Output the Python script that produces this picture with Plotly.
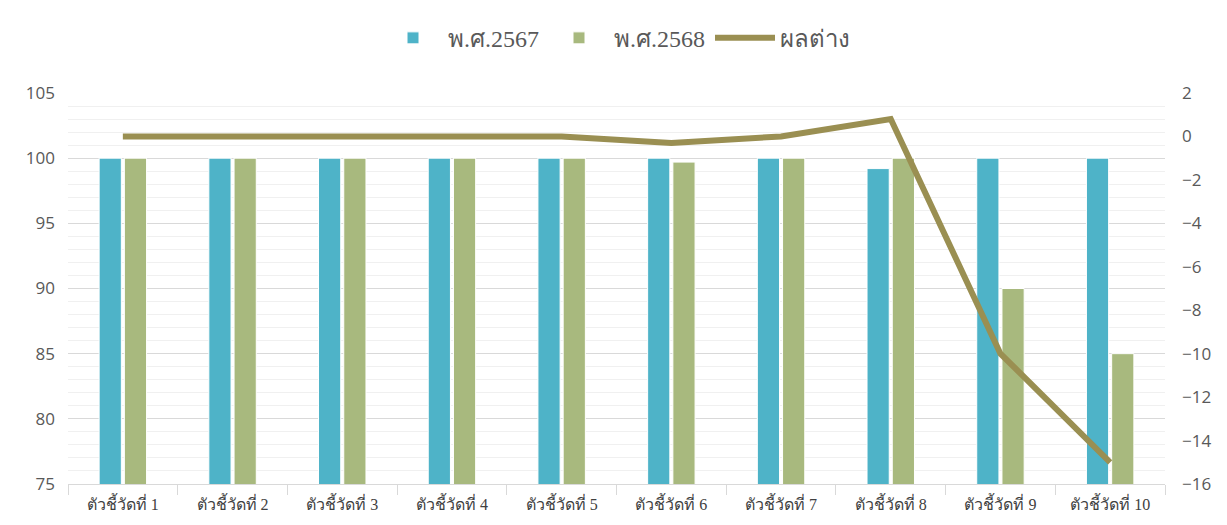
import plotly.graph_objects as go

categories = ["ตัวชี้วัดที่ 1", "ตัวชี้วัดที่ 2", "ตัวชี้วัดที่ 3", "ตัวชี้วัดที่ 4", "ตัวชี้วัดที่ 5",
              "ตัวชี้วัดที่ 6", "ตัวชี้วัดที่ 7", "ตัวชี้วัดที่ 8", "ตัวชี้วัดที่ 9", "ตัวชี้วัดที่ 10"]
y2567 = [100, 100, 100, 100, 100, 100, 100, 99.2, 100, 100]
y2568 = [100, 100, 100, 100, 100, 99.7, 100, 100, 90, 85]
diff = [0, 0, 0, 0, 0, -0.3, 0, 0.8, -10, -15]

left_ticks = [75, 80, 85, 90, 95, 100, 105]
right_ticks = [2, 0, -2, -4, -6, -8, -10, -12, -14, -16]

fig = go.Figure()
fig.add_trace(go.Bar(x=categories, y=y2567, name="พ.ศ.2567", marker=dict(color="#4EB3C8", line=dict(color="white", width=1))))
fig.add_trace(go.Bar(x=categories, y=y2568, name="พ.ศ.2568", marker=dict(color="#A8B97E", line=dict(color="white", width=1))))
fig.add_trace(go.Scatter(x=categories, y=diff, name="ผลต่าง", mode="lines", yaxis="y2",
                         line=dict(color="#9A8F52", width=6)))

fig.update_layout(
    width=1219, height=517,
    margin=dict(l=60, r=62, t=85, b=41, autoexpand=False),
    plot_bgcolor="white", paper_bgcolor="white",
    barmode="group", bargap=0.54, bargroupgap=0.12,
    legend=dict(orientation="h", x=0.5, xanchor="center", y=1.14, yanchor="middle",
                itemwidth=60,
                font=dict(family="Liberation Serif", size=24, color="#595959"), traceorder="normal"),
    xaxis=dict(showgrid=False, ticks="outside", tickson="boundaries", ticklen=10, tickcolor="#d9d9d9",
               showline=True, linecolor="#d9d9d9", linewidth=1, ticklabelstandoff=6,
               tickfont=dict(family="Liberation Serif", size=16, color="#404040")),
    yaxis=dict(range=[75, 105], tickvals=left_ticks, showgrid=True, gridcolor="#d9d9d9", gridwidth=1,
               minor=dict(dtick=1, showgrid=True, gridcolor="#f0f0f0", gridwidth=1),
               ticklabelstandoff=12,
               zeroline=False, tickfont=dict(family="Open Sans", size=17, color="#595959")),
    yaxis2=dict(range=[-16, 2], tickvals=right_ticks, overlaying="y", side="right", showgrid=False,
                ticklabelstandoff=16,
                zeroline=False, tickfont=dict(family="Open Sans", size=17, color="#595959")),
)

fig.write_html("out.html")
